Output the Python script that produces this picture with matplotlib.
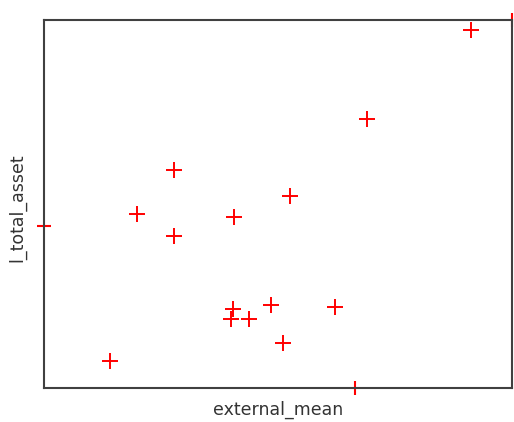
import matplotlib
matplotlib.use('Agg')
import matplotlib.pyplot as plt

# Values (arbitrary units, axes span 0..10)
external_mean = [2.78, 1.98, 2.78, 4.07, 5.26, 4.03, 4.00, 4.37, 4.85, 6.22, 5.10, 1.40, 6.90, 9.12]
l_total_asset = [5.92, 4.73, 4.13, 4.65, 5.22, 2.16, 1.88, 1.88, 2.25, 2.21, 1.23, 0.74, 7.31, 9.73]

# Red reference ticks on the frame
x_tick_mark = 6.65
y_tick_mark = 4.40
corner_mark = (10.0, 10.0)

x_lim = (0, 10)
y_lim = (0, 10)

fig = plt.figure(figsize=(5.14, 4.22), dpi=100)
ax = fig.add_axes([0.0856, 0.0806, 0.9105, 0.872])

ax.scatter(external_mean, l_total_asset, marker='+', color='red', s=130, linewidths=1.4, zorder=3)

# Frame ticks, drawn outside the clip box
ax.plot([x_tick_mark], [y_lim[0]], marker='|', color='red', markersize=10, mew=1.5, clip_on=False, zorder=1)
ax.plot([x_lim[0]], [y_tick_mark], marker='_', color='red', markersize=10, mew=1.5, clip_on=False, zorder=1)
ax.plot([corner_mark[0]], [corner_mark[1]], marker='|', color='red', markersize=10, mew=1.5, clip_on=False, zorder=1)

ax.set_xlim(*x_lim)
ax.set_ylim(*y_lim)
ax.set_xticks([])
ax.set_yticks([])
for sp in ax.spines.values():
    sp.set_color('#404040')
    sp.set_linewidth(1.5)

ax.set_xlabel('external_mean', fontsize=12.5, color='#333333')
ax.set_ylabel('l_total_asset', fontsize=12.5, color='#333333')
ax.xaxis.set_label_coords(0.5, -0.036)
ax.yaxis.set_label_coords(-0.037, 0.49)

fig.savefig('out.png', dpi=100)
